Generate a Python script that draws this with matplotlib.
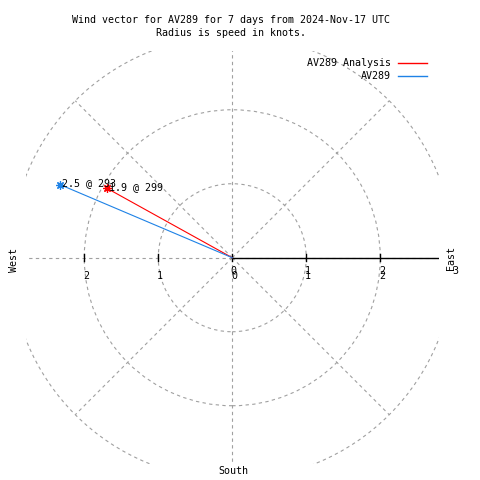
import numpy as np
import matplotlib.pyplot as plt
from matplotlib.patches import Circle
from matplotlib.lines import Line2D

plt.rcParams['font.family'] = ['DejaVu Sans Mono', 'DejaVu Sans']

title = 'Wind vector for AV289 for 7 days from 2024-Nov-17 UTC\nRadius is speed in knots.'
series = ['AV289 Analysis', 'AV289']
colors = ['#ff0000', '#1e82e6']
speed_kt = [1.94, 2.53]
direction_deg = [299, 293]
rings = [1, 2, 3]
spokes = [0, 45, 90, 135, 180, 225, 270, 315]
xticks = [-2, -1, 0, 1, 2]
xtick_labels = ['2', '1', '0', '1', '2']
rticks = [0, 1, 2, 3]

PX = 74.0   # pixels per knot
lim = 2.79
fs = 7.2
W = 480.0

fig = plt.figure(figsize=(4.8, 4.8), dpi=100)
ax = fig.add_axes([25.8 / W, 15.8 / W, 2 * lim * PX / W, 2 * lim * PX / W])
ax.set_xlim(-lim, lim)
ax.set_ylim(-lim, lim)
ax.axis('off')

grid = dict(color='#a0a0a0', lw=0.8, ls=(0, (3, 3)))
for r in rings:
    ax.add_patch(Circle((0, 0), r, fill=False, ec=grid['color'], lw=grid['lw'], ls=grid['ls']))
for a in spokes:
    t = np.radians(a)
    ax.plot([0, rings[-1] * np.cos(t)], [0, rings[-1] * np.sin(t)], **grid)

# polar axis + ticks
ax.plot([0, lim], [0, 0], color='black', lw=1)
h = 3.5 / PX
for t in xticks:
    ax.plot([t, t], [-h, h], color='black', lw=1)
for t, lab in zip(xticks, xtick_labels):
    ax.text(t + 1.7 / PX, -18.3 / PX, lab, ha='center', va='center', fontsize=fs)
for t in rticks:
    ax.text(t + 1.5 / PX, -13 / PX, str(t), ha='center', va='center', fontsize=fs)

# wind vectors
for name, c, s, d in zip(series, colors, speed_kt, direction_deg):
    th = np.radians(90 - d)
    x, y = s * np.cos(th), s * np.sin(th)
    ax.plot([0, x], [0, y], color=c, lw=0.8)
    ax.plot(x, y, marker=(8, 2, 0), ms=6, mew=0.9, color=c, ls='none', zorder=4)
    ax.annotate(f'{s:.1f} @ {d}', (x, y), xytext=(2, 1), textcoords='offset pixels',
                ha='left', va='center', fontsize=fs, zorder=5)

# compass labels
fig.text(14 / W, 1 - 260 / W, 'West', rotation=90, ha='center', va='center', fontsize=fs)
fig.text(451 / W, 1 - 258 / W, 'East', rotation=90, ha='center', va='center', fontsize=fs)
fig.text(233 / W, 1 - 471 / W, 'South', ha='center', va='center', fontsize=fs)

# legend
for i, (name, c) in enumerate(zip(series, colors)):
    yy = 1 - (62.7 + 13.3 * i) / W
    fig.text(391 / W, yy, name, ha='right', va='center', fontsize=fs)
    fig.add_artist(Line2D([398 / W, 427 / W], [yy, yy], color=c, lw=1, transform=fig.transFigure))

fig.text(231.5 / W, 1 - 26.7 / W, title, ha='center', va='center', fontsize=fs, linespacing=1.33)

fig.savefig('out.png', dpi=100)
